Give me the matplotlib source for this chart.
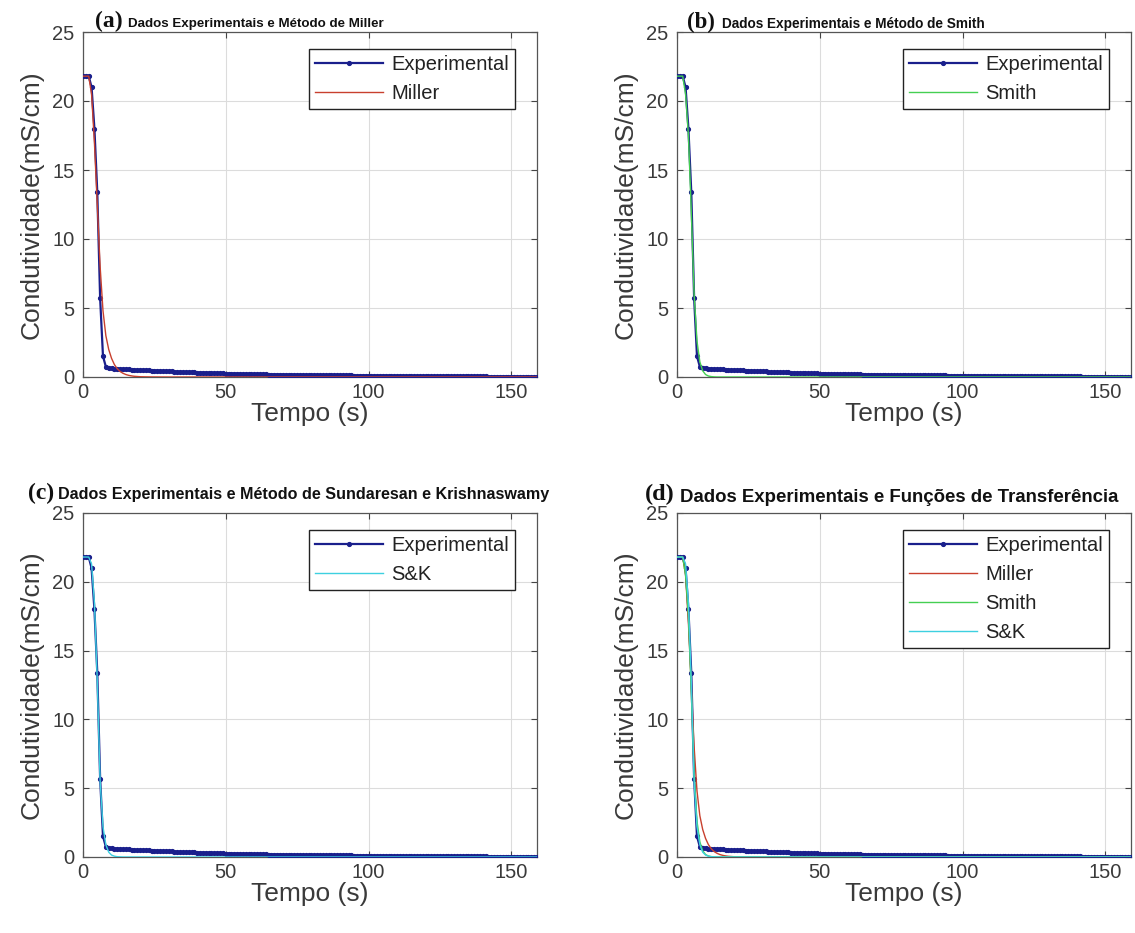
import numpy as np
import matplotlib
matplotlib.use("Agg")
import matplotlib.pyplot as plt

# ---------------- data ----------------
exp_cond = [21.8, 21.8, 21.8, 21.0, 18.0, 13.4, 5.7, 1.5, 0.75, 0.66,
            0.62, 0.60, 0.61, 0.58, 0.57, 0.55, 0.56, 0.53, 0.52, 0.50,
            0.51, 0.49, 0.48, 0.50, 0.47, 0.46, 0.45, 0.44, 0.42, 0.41,
            0.40, 0.40, 0.39, 0.37, 0.37, 0.36, 0.35, 0.34, 0.34, 0.33,
            0.32, 0.31, 0.31, 0.30, 0.29, 0.29, 0.28, 0.27, 0.27, 0.26,
            0.25, 0.25, 0.24, 0.24, 0.23, 0.23, 0.22, 0.22, 0.21, 0.21,
            0.20, 0.20, 0.19, 0.19, 0.19, 0.18, 0.18, 0.18, 0.17, 0.17,
            0.17, 0.16, 0.16, 0.16, 0.15, 0.15, 0.15, 0.15, 0.14, 0.14,
            0.14, 0.14, 0.13, 0.13, 0.13, 0.13, 0.12, 0.12, 0.12, 0.12,
            0.12, 0.11, 0.11, 0.11, 0.11, 0.10, 0.10, 0.10, 0.10, 0.10,
            0.10, 0.09, 0.09, 0.09, 0.09, 0.09, 0.09, 0.08, 0.08, 0.08,
            0.08, 0.08, 0.08, 0.07, 0.07, 0.07, 0.07, 0.07, 0.07, 0.06,
            0.06, 0.06, 0.06, 0.06, 0.06, 0.06, 0.05, 0.05, 0.05, 0.05,
            0.05, 0.05, 0.05, 0.05, 0.04, 0.04, 0.04, 0.04, 0.04, 0.04,
            0.04, 0.04, 0.03, 0.03, 0.03, 0.03, 0.03, 0.03, 0.03, 0.03,
            0.03, 0.03, 0.02, 0.02, 0.02, 0.02, 0.02, 0.02, 0.02, 0.02]
exp_tempo = np.arange(len(exp_cond))

mod_tempo = [0, 1, 2, 3, 4, 5, 6, 7, 8, 9, 10, 11, 12, 13, 14, 15, 16, 17,
             18, 19, 20, 22, 25, 30, 40, 60, 80, 100, 120, 140, 159]
miller = [21.8, 21.8, 21.8, 20.5, 17.0, 12.5, 8.0, 4.8, 3.0, 2.0, 1.35, 0.9,
          0.6, 0.4, 0.27, 0.18, 0.12, 0.08, 0.05, 0.035, 0.02, 0.01, 0.004,
          0.0, 0.0, 0.0, 0.0, 0.0, 0.0, 0.0, 0.0]
smith = [21.8, 21.8, 21.8, 20.5, 17.5, 12.0, 6.0, 2.6, 1.1, 0.45, 0.18, 0.07,
         0.03, 0.01, 0.0, 0.0, 0.0, 0.0, 0.0, 0.0, 0.0, 0.0, 0.0,
         0.0, 0.0, 0.0, 0.0, 0.0, 0.0, 0.0, 0.0]
sk = [21.8, 21.8, 21.8, 21.3, 18.5, 12.8, 5.5, 2.2, 0.9, 0.35, 0.14, 0.06,
      0.02, 0.01, 0.0, 0.0, 0.0, 0.0, 0.0, 0.0, 0.0, 0.0, 0.0,
      0.0, 0.0, 0.0, 0.0, 0.0, 0.0, 0.0, 0.0]

y_ticks = [0, 5, 10, 15, 20, 25]
x_ticks = [0, 50, 100, 150]
x_label = "Tempo (s)"
y_label = "Condutividade(mS/cm)"

panel_tags = ["(a)", "(b)", "(c)", "(d)"]
panel_titles = ["Dados Experimentais e Método de Miller",
                "Dados Experimentais e Método de Smith",
                "Dados Experimentais e Método de Sundaresan e Krishnaswamy",
                "Dados Experimentais e Funções de Transferência"]

C_EXP = "#1a1f8c"
C_MIL = "#c8402e"
C_SMI = "#45cf52"
C_SK = "#3dd0e0"

# ---------------- figure ----------------
W, H = 1135, 933
fig = plt.figure(figsize=(W / 100, H / 100), dpi=100)
plt.rcParams['font.family'] = ['Liberation Sans', 'DejaVu Sans']


def px_axes(left, top, right, bottom):
    return fig.add_axes([left / W, 1 - bottom / H, (right - left) / W, (bottom - top) / H])


boxes = [(83, 32, 537, 377), (677, 32, 1131, 377),
         (83, 513, 537, 857), (677, 513, 1131, 857)]

series = [
    [("Miller", miller, C_MIL)],
    [("Smith", smith, C_SMI)],
    [("S&K", sk, C_SK)],
    [("Miller", miller, C_MIL), ("Smith", smith, C_SMI), ("S&K", sk, C_SK)],
]

for i, box in enumerate(boxes):
    ax = px_axes(*box)
    ax.plot(exp_tempo, exp_cond, color=C_EXP, lw=1.6, marker='.', ms=5.5,
            label="Experimental", zorder=3)
    for name, vals, col in series[i]:
        ax.plot(mod_tempo, vals, color=col, lw=1.0, label=name, zorder=4)
    ax.set_xlim(0, 159)
    ax.set_ylim(0, 25)
    ax.set_xticks(x_ticks)
    ax.set_yticks(y_ticks)
    ax.grid(True, color='#dcdcdc', lw=0.8)
    ax.set_axisbelow(True)
    ax.tick_params(direction='in', length=4, width=0.8, top=True, right=True,
                   labelsize=14.5, labelcolor='#3a3a3a', color='#444444', pad=6)
    ax.tick_params(axis='x', pad=4)
    for s in ax.spines.values():
        s.set_color('#555555')
        s.set_linewidth(0.9)
    ax.set_xlabel(x_label, fontsize=19, color='#3a3a3a', labelpad=0)
    ax.set_ylabel(y_label, fontsize=19, color='#3a3a3a', labelpad=6)
    leg = ax.legend(loc='upper right',
                    bbox_to_anchor=(1 - 22 / 454, 1 - 17 / 345),
                    borderaxespad=0, fontsize=14.5, frameon=True, fancybox=False,
                    edgecolor='#222222', framealpha=1, handlelength=3.4,
                    handletextpad=0.4, labelspacing=0.5, borderpad=0.3,
                    numpoints=1)
    leg.get_frame().set_linewidth(1.0)
    for t in leg.get_texts():
        t.set_color('#222222')

# titles: serif bold tag + sans bold text
tag_pos = [(95, 27), (687, 28), (28, 499), (645, 500)]
tag_fs = [17, 16.5, 17, 17.5]
title_x = [128, 722, 58, 680]
title_y = [27, 28, 499, 502]
title_fs = [9.6, 9.8, 11.6, 13.4]
for i in range(4):
    tx, ty = tag_pos[i]
    fig.text(tx / W, 1 - ty / H, panel_tags[i], family='Liberation Serif',
             weight='bold', fontsize=tag_fs[i], color='#111111', va='baseline')
    fig.text(title_x[i] / W, 1 - title_y[i] / H, panel_titles[i], family='Liberation Sans',
             weight='bold', fontsize=title_fs[i], color='#111111', va='baseline')

fig.savefig("out.png", dpi=100, facecolor='white')
